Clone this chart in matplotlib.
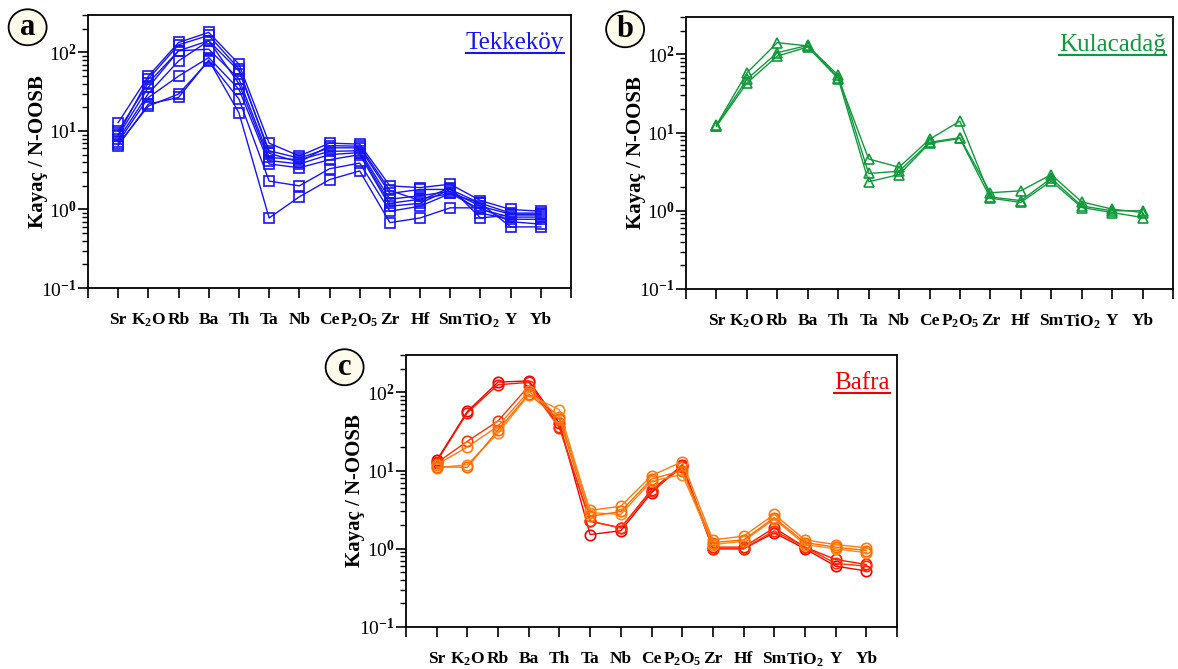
import matplotlib
matplotlib.use("Agg")
import matplotlib.pyplot as plt
from matplotlib.lines import Line2D
from matplotlib.patches import Ellipse
import numpy as np

plt.rcParams["font.family"] = ["Liberation Serif", "DejaVu Serif"]
plt.rcParams["mathtext.fontset"] = "custom"
plt.rcParams["mathtext.rm"] = "Liberation Serif:bold"
plt.rcParams["mathtext.bf"] = "Liberation Serif:bold"
plt.rcParams["mathtext.it"] = "Liberation Serif:bold"
plt.rcParams["mathtext.default"] = "rm"

elements = ["Sr", "K$_2$O", "Rb", "Ba", "Th", "Ta", "Nb", "Ce",
            "P$_2$O$_5$", "Zr", "Hf", "Sm", "TiO$_2$", "Y", "Yb"]

# Tekkeköy samples (rock / N-MORB)
tekkekoy = [
    [12.8, 50, 134, 180, 71, 7.0, 4.8, 7.0, 6.8, 2.0, 1.9, 2.1, 1.3, 1.0, 0.95],
    [10.0, 41, 105, 141, 58, 5.6, 4.5, 6.1, 6.1, 1.6, 1.8, 1.8, 1.2, 0.9, 0.9],
    [8.6, 36, 105, 110, 46, 4.6, 4.3, 5.5, 5.6, 1.35, 1.5, 1.7, 1.1, 0.87, 0.87],
    [7.8, 30, 78, 141, 40, 4.2, 3.8, 5.0, 5.3, 1.2, 1.35, 1.6, 1.0, 0.8, 0.8],
    [7.2, 26.7, 50, 86, 34, 3.8, 3.4, 4.3, 5.0, 1.1, 1.2, 1.8, 0.9, 0.75, 0.75],
    [6.8, 20.8, 29.5, 78, 25.5, 2.3, 2.0, 3.3, 3.9, 0.95, 1.1, 1.6, 1.2, 0.6, 0.6],
    [6.5, 22, 26.7, 80, 17, 0.78, 1.45, 2.4, 3.1, 0.68, 0.78, 1.05, 1.05, 0.7, 0.65],
    [9.0, 46, 125, 165, 62, 5.2, 4.0, 6.5, 6.4, 1.75, 1.3, 1.9, 0.78, 0.85, 0.85],
]

# Kulacadağ samples
kulacadag = [
    [12.5, 58, 141, 128, 54, 3.0, 3.2, 7.5, 8.6, 1.7, 1.8, 2.9, 1.3, 1.05, 0.95],
    [12.3, 48, 105, 130, 50, 4.6, 3.6, 8.2, 14, 1.5, 1.35, 2.6, 1.15, 1.0, 1.0],
    [12.0, 43, 95, 124, 49, 2.35, 2.9, 7.3, 8.4, 1.45, 1.28, 2.4, 1.1, 0.95, 0.82],
]

# Bafra samples
bafra = [
    [13.5, 57, 135, 140, 40, 1.52, 1.7, 5.2, 11.9, 1.0, 1.0, 1.6, 1.0, 0.6, 0.52],
    [13.0, 55, 125, 134, 36, 2.25, 1.85, 5.7, 11.5, 1.05, 1.05, 1.85, 1.05, 0.73, 0.63],
    [12.5, 23.7, 43, 120, 35, 2.25, 1.85, 5.5, 11.0, 1.0, 1.0, 1.7, 1.05, 0.65, 0.6],
    [11.9, 20, 37, 103, 49, 3.1, 3.5, 8.6, 13, 1.3, 1.45, 2.75, 1.3, 1.13, 1.03],
    [10.8, 11.9, 30, 93, 60, 2.9, 2.75, 7.3, 8.9, 1.13, 1.25, 2.4, 1.13, 1.0, 0.89],
    [11.2, 11.0, 33, 95, 45, 2.6, 3.0, 7.8, 10.0, 1.2, 1.3, 2.5, 1.2, 1.05, 0.95],
]
bafra_colors = ["#f00000", "#f51a00", "#ff3300", "#ff7a10", "#ff8a1a", "#ff6a00"]

W, H = 1178, 669
fig = plt.figure(figsize=(W / 100, H / 100), dpi=100)


def px_axes(left, top, right, bottom):
    return fig.add_axes([left / W, 1 - bottom / H, (right - left) / W, (bottom - top) / H])


def draw_panel(ax, data, colors, marker, letter, title, tcolor):
    x = np.arange(len(elements))
    for vals, c in zip(data, colors):
        ax.plot(x, vals, color=c, lw=1.0, marker=marker, ms=7.5, mfc="none",
                mec=c, mew=1.2)
    ax.set_yscale("log")
    ax.set_ylim(0.1, 300)
    ax.set_xlim(-1, 15)
    ax.set_facecolor("none")
    ax.set_xticks(range(-1, 16))
    ax.set_xticklabels([""] + elements + [""], fontsize=12.5, fontweight="bold")
    ax.set_yticks([0.1, 1, 10, 100])
    ax.set_yticklabels(["10$^{-1}$", "10$^{0}$", "10$^{1}$", "10$^{2}$"], fontsize=14)
    ax.tick_params(axis="x", direction="out", length=7, width=1.2, pad=10)
    ax.tick_params(axis="y", which="major", direction="out", length=7, width=1.2, pad=1)
    ax.tick_params(axis="y", which="minor", direction="out", length=4, width=1.0)
    for s in ax.spines.values():
        s.set_linewidth(1.3)
    ax.set_ylabel("Kayaç / N-OOSB", fontsize=15, fontweight="bold")
    ax.yaxis.set_label_coords(-0.083, 0.5)
    t = ax.text(0.985, 0.875, title, transform=ax.transAxes, ha="right",
                va="baseline", fontsize=18, color=tcolor)
    # panel letter in a circle
    ell = Ellipse((-0.125, 0.955), 38 / ax.bbox.width, 36 / ax.bbox.height,
                  transform=ax.transAxes, facecolor="#fffbea", edgecolor="black",
                  lw=1.3, clip_on=False)
    ax.add_patch(ell)
    ax.text(-0.125, 0.955, letter, transform=ax.transAxes, ha="center",
            va="center", fontsize=22, fontweight="bold", clip_on=False)
    return t


ax_a = px_axes(88, 15, 571, 288)
ax_b = px_axes(686, 17, 1173, 289)
ax_c = px_axes(406, 355, 897, 627)

titles = [
    draw_panel(ax_a, tekkekoy, ["#1515f5"] * len(tekkekoy), "s", "a", "Tekkeköy", "#1515f5"),
    draw_panel(ax_b, kulacadag, ["#119a3c"] * len(kulacadag), "^", "b", "Kulacadağ", "#119a3c"),
    draw_panel(ax_c, bafra, bafra_colors, "o", "c", "Bafra", "#f00000"),
]

# underline the locality names
fig.canvas.draw()
inv = fig.transFigure.inverted()
for t in titles:
    bb = t.get_window_extent(renderer=fig.canvas.get_renderer())
    x0, y0 = inv.transform((bb.x0, bb.y0 + 1))
    x1, _ = inv.transform((bb.x1, bb.y0 + 1))
    fig.add_artist(Line2D([x0, x1], [y0, y0], transform=fig.transFigure,
                          color=t.get_color(), lw=1.5))

fig.savefig("out.png", dpi=100)
